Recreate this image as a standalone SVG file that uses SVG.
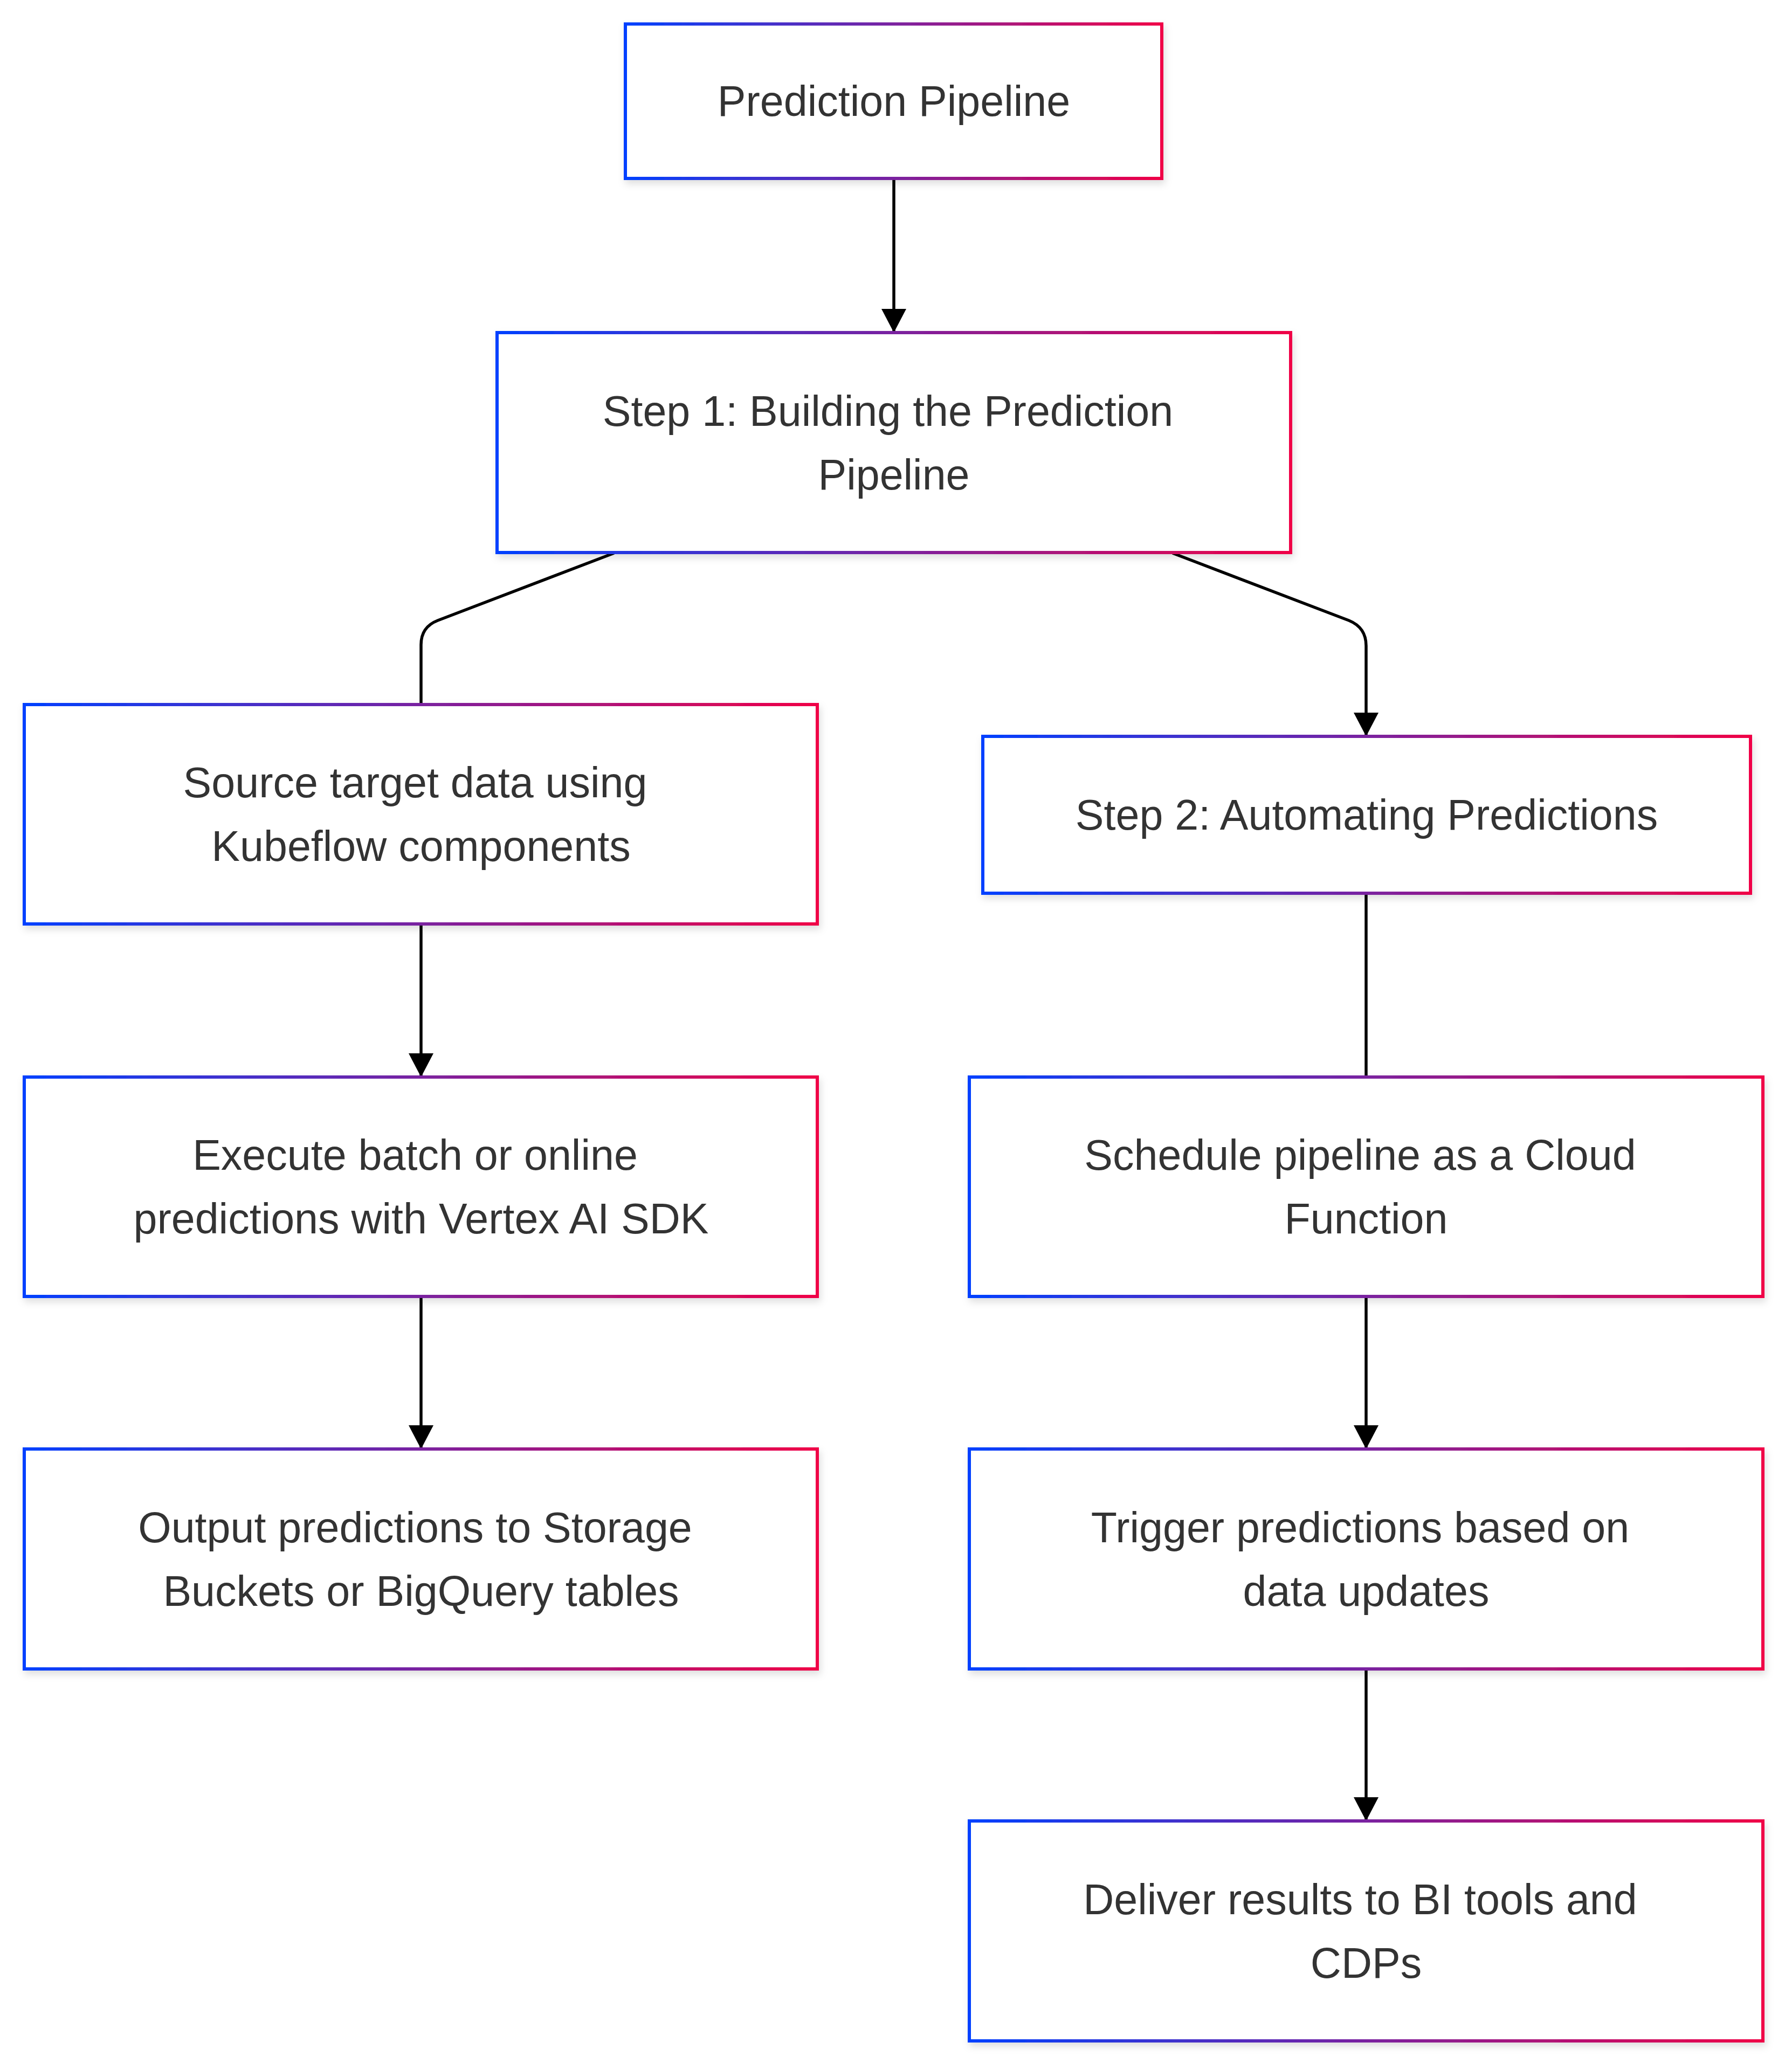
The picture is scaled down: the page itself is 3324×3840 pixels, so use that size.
<svg xmlns="http://www.w3.org/2000/svg" width="3324" height="3840" viewBox="0 0 3324 3840">
<style>
.box{fill:#ffffff;stroke:url(#grad);stroke-width:6;filter:url(#shadow)}
.lbl{font-family:"Liberation Sans",Arial,sans-serif;font-size:79px;fill:#333333;text-anchor:middle}
.edge{fill:none;stroke:#000000;stroke-width:5.5}
</style>
<defs>
<linearGradient id="grad" x1="0" y1="0" x2="1" y2="0">
<stop offset="0" stop-color="#0040ff"/>
<stop offset="0.5" stop-color="#7a22a0"/>
<stop offset="1" stop-color="#f00046"/>
</linearGradient>
<filter id="shadow" x="-5%" y="-10%" width="115%" height="130%">
<feDropShadow dx="3" dy="7" stdDeviation="7" flood-color="#000000" flood-opacity="0.13"/>
</filter>
<marker id="arrow" markerUnits="userSpaceOnUse" markerWidth="46" markerHeight="46" refX="44" refY="23" orient="auto" viewBox="0 0 46 46">
<path d="M0,0 L44,23 L0,46 z" fill="#000000"/>
</marker>
</defs>
<rect width="3324" height="3840" fill="#ffffff"/>
<g id="connectors">
<path class="edge" d="M1658,331 L1658,617" marker-end="url(#arrow)"/>
<path class="edge" d="M1139,1026 L812,1151 Q781,1163 781,1196 L781,1307"/>
<path class="edge" d="M2175,1026 L2502,1151 Q2534,1164 2534,1198 L2534,1366" marker-end="url(#arrow)"/>
<path class="edge" d="M781,1714 L781,1998" marker-end="url(#arrow)"/>
<path class="edge" d="M781,2405 L781,2688" marker-end="url(#arrow)"/>
<path class="edge" d="M2534,1657 L2534,1998"/>
<path class="edge" d="M2534,2405 L2534,2688" marker-end="url(#arrow)"/>
<path class="edge" d="M2534,3096 L2534,3378" marker-end="url(#arrow)"/>
</g>
<g id="node-prediction-pipeline">
<rect class="box" x="1160" y="44.5" width="995" height="286.5"/>
<text class="lbl" x="1658" y="215">Prediction Pipeline</text>
</g>
<g id="node-step1">
<rect class="box" x="922" y="617" width="1472" height="408"/>
<text class="lbl" x="1647" y="790">Step 1: Building the Prediction</text>
<text class="lbl" x="1658" y="908">Pipeline</text>
</g>
<g id="node-source">
<rect class="box" x="45" y="1307" width="1471" height="407"/>
<text class="lbl" x="770" y="1479">Source target data using</text>
<text class="lbl" x="781" y="1597">Kubeflow components</text>
</g>
<g id="node-step2">
<rect class="box" x="1823" y="1366" width="1424" height="291"/>
<text class="lbl" x="2535" y="1539">Step 2: Automating Predictions</text>
</g>
<g id="node-execute">
<rect class="box" x="45" y="1998" width="1471" height="407"/>
<text class="lbl" x="770" y="2170">Execute batch or online</text>
<text class="lbl" x="781" y="2288">predictions with Vertex AI SDK</text>
</g>
<g id="node-schedule">
<rect class="box" x="1798" y="1998" width="1472" height="407"/>
<text class="lbl" x="2523" y="2170">Schedule pipeline as a Cloud</text>
<text class="lbl" x="2534" y="2288">Function</text>
</g>
<g id="node-output">
<rect class="box" x="45" y="2688" width="1471" height="408"/>
<text class="lbl" x="770" y="2861">Output predictions to Storage</text>
<text class="lbl" x="781" y="2979">Buckets or BigQuery tables</text>
</g>
<g id="node-trigger">
<rect class="box" x="1798" y="2688" width="1472" height="408"/>
<text class="lbl" x="2523" y="2861">Trigger predictions based on</text>
<text class="lbl" x="2534" y="2979">data updates</text>
</g>
<g id="node-deliver">
<rect class="box" x="1798" y="3378" width="1472" height="408"/>
<text class="lbl" x="2523" y="3551">Deliver results to BI tools and</text>
<text class="lbl" x="2534" y="3669">CDPs</text>
</g>
</svg>
